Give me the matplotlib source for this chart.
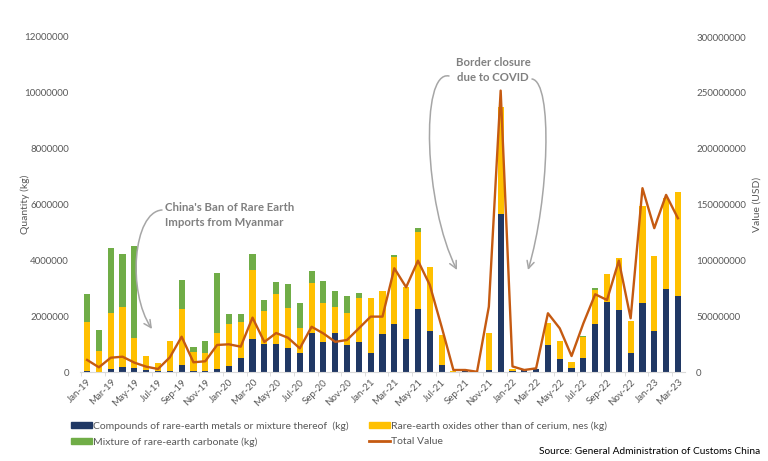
import numpy as np
import pandas as pd
import matplotlib
matplotlib.use("Agg")
import matplotlib.pyplot as plt
from matplotlib.patches import Patch, FancyArrowPatch
from matplotlib.lines import Line2D
from matplotlib.path import Path

plt.rcParams['font.family'] = ['Lato', 'DejaVu Sans']

# monthly labels Jan-19 .. Mar-23
months = [d.strftime('%b-%y') for d in pd.date_range('2019-01-01', '2023-03-01', freq='MS')]

# quantities, million kg
compounds = [0.05, 0.00, 0.10, 0.18, 0.14, 0.06, 0.02, 0.02, 0.25, 0.05, 0.05, 0.11,
             0.21, 0.49, 1.17, 1.00, 1.01, 0.85, 0.68, 1.38, 1.08, 1.41, 0.98, 1.08,
             0.68, 1.35, 1.71, 1.17, 2.27, 1.47, 0.26, 0.00, 0.05, 0.00, 0.06, 5.65,
             0.05, 0.06, 0.11, 0.96, 0.45, 0.13, 0.51, 1.71, 2.50, 2.22, 0.69, 2.46,
             1.48, 2.97, 2.73]
oxides = [1.75, 0.75, 2.03, 2.15, 1.08, 0.51, 0.29, 1.08, 2.01, 0.68, 0.64, 1.29,
          1.51, 1.31, 2.50, 1.20, 1.77, 1.46, 0.90, 1.81, 1.40, 0.93, 1.12, 1.56,
          1.98, 1.55, 2.41, 1.89, 2.75, 2.30, 1.07, 0.03, 0.00, 0.00, 1.33, 3.86,
          0.07, 0.00, 0.00, 0.78, 0.66, 0.24, 0.73, 1.23, 1.01, 1.87, 1.13, 3.50,
          2.69, 3.25, 3.73]
carbonate = [0.98, 0.76, 2.30, 1.90, 3.28, 0.00, 0.00, 0.00, 1.04, 0.15, 0.43, 2.15,
             0.36, 0.28, 0.56, 0.37, 0.43, 0.83, 0.88, 0.42, 0.78, 0.55, 0.62, 0.18,
             0.00, 0.00, 0.07, 0.00, 0.14, 0.00, 0.00, 0.00, 0.00, 0.00, 0.00, 0.00,
             0.00, 0.00, 0.00, 0.00, 0.00, 0.00, 0.05, 0.08, 0.00, 0.00, 0.00, 0.00,
             0.00, 0.00, 0.00]
# total value, million USD
total_value = [10.8, 4.2, 12.8, 13.7, 8.4, 4.8, 2.7, 13.1, 31.6, 8.7, 9.6, 24.2,
               24.8, 22.7, 48.7, 26.9, 34.9, 30.7, 21.2, 40.5, 34.5, 27.0, 28.7, 39.1,
               49.6, 49.6, 92.9, 75.9, 99.7, 78.0, 40.6, 1.8, 1.8, 0.2, 58.5, 252.0,
               5.0, 1.8, 3.3, 52.6, 39.1, 14.3, 43.6, 69.6, 64.5, 99.7, 48.1, 164.6,
               128.8, 158.6, 137.7]

c_navy = '#203864'
c_yel = '#ffc000'
c_grn = '#70ad47'
c_line = '#c55a11'
c_txt = '#595959'
c_ann = '#808080'

W, H = 768, 461

def fp(px, py):
    # pixel from top-left -> figure fraction
    return (px / W, 1 - py / H)

x = np.arange(len(months))
comp = np.array(compounds) * 1e6
oxi = np.array(oxides) * 1e6
carb = np.array(carbonate) * 1e6
val = np.array(total_value) * 1e6

fig = plt.figure(figsize=(W/100, H/100), dpi=100)
ax = fig.add_axes([80/W, 1-372/H, 605/W, 335/H])
w = 0.52
ax.bar(x, comp, w, color=c_navy, zorder=2)
ax.bar(x, oxi, w, bottom=comp, color=c_yel, zorder=2)
ax.bar(x, carb, w, bottom=comp+oxi, color=c_grn, zorder=2)
ax.set_ylim(0, 12000000)
ax.set_xlim(-0.6, len(months)-0.4)
ax.set_yticks(np.arange(0, 12000001, 2000000))
ax.set_yticklabels([str(v) for v in range(0, 12000001, 2000000)])

ax2 = ax.twinx()
ax2.plot(x, val, color=c_line, lw=1.7, zorder=3)
ax2.set_ylim(0, 300000000)
ax2.set_yticks(np.arange(0, 300000001, 50000000))
ax2.set_yticklabels([str(v) for v in range(0, 300000001, 50000000)])

for a in (ax, ax2):
    for s in a.spines.values():
        s.set_visible(False)
    a.tick_params(axis='y', length=0, labelsize=7, labelcolor=c_txt, pad=8)
ax.spines['bottom'].set_visible(True)
ax.spines['bottom'].set_color('#d9d9d9')

ax.set_xticks(x[::2])
ax.set_xticklabels(months[::2], rotation=45, ha='right', rotation_mode='anchor')
ax.tick_params(axis='x', length=0, labelsize=7, labelcolor=c_txt, pad=4)
ax.set_xticks(x[::2] - 0.5, minor=True)
ax.tick_params(axis='x', which='minor', length=3, color='#d9d9d9')

ax.set_ylabel('Quantity (kg)', fontsize=7.5, color=c_txt, labelpad=-4)
ax2.set_ylabel('Value (USD)', fontsize=7.5, color=c_txt, labelpad=5)

# annotations
fig.text(*fp(165, 215), "China's Ban of Rare Earth\nImports from Myanmar", fontsize=8.2,
         fontweight='bold', color=c_ann, va='center', ha='left', linespacing=1.45)
fig.text(*fp(493, 70), "Border closure\ndue to COVID", fontsize=8.2,
         fontweight='bold', color=c_ann, va='center', ha='center', linespacing=1.45)

def curved_arrow(pts):
    verts = [fp(*p) for p in pts]
    path = Path(verts, [Path.MOVETO, Path.CURVE4, Path.CURVE4, Path.CURVE4])
    arr = FancyArrowPatch(path=path, arrowstyle='->', mutation_scale=13, color='#a6a6a6',
                          lw=1.1, transform=fig.transFigure)
    fig.add_artist(arr)

curved_arrow([(162, 210), (133, 212), (127, 292), (152, 329)])
curved_arrow([(449, 76), (420, 70), (424, 205), (457, 270)])
curved_arrow([(532, 79), (553, 82), (549, 200), (528, 270)])

handles = [Patch(color=c_navy), Patch(color=c_grn), Patch(color=c_yel), Line2D([], [], color=c_line, lw=2)]
labels = ['Compounds of rare-earth metals or mixture thereof  (kg)', 'Mixture of rare-earth carbonate (kg)',
          'Rare-earth oxides other than of cerium, nes (kg)', 'Total Value']
fig.legend(handles, labels, ncol=2, loc='upper left', bbox_to_anchor=fp(62, 412), frameon=False,
           fontsize=7.5, labelcolor=c_txt, handlelength=2.0, handleheight=0.5, handletextpad=0.1,
           columnspacing=1.9, labelspacing=0.6)
fig.text(*fp(760, 451), 'Source: General Administration of Customs China', fontsize=7.3,
         color='black', ha='right', va='center')

fig.savefig('out.png', dpi=100)
